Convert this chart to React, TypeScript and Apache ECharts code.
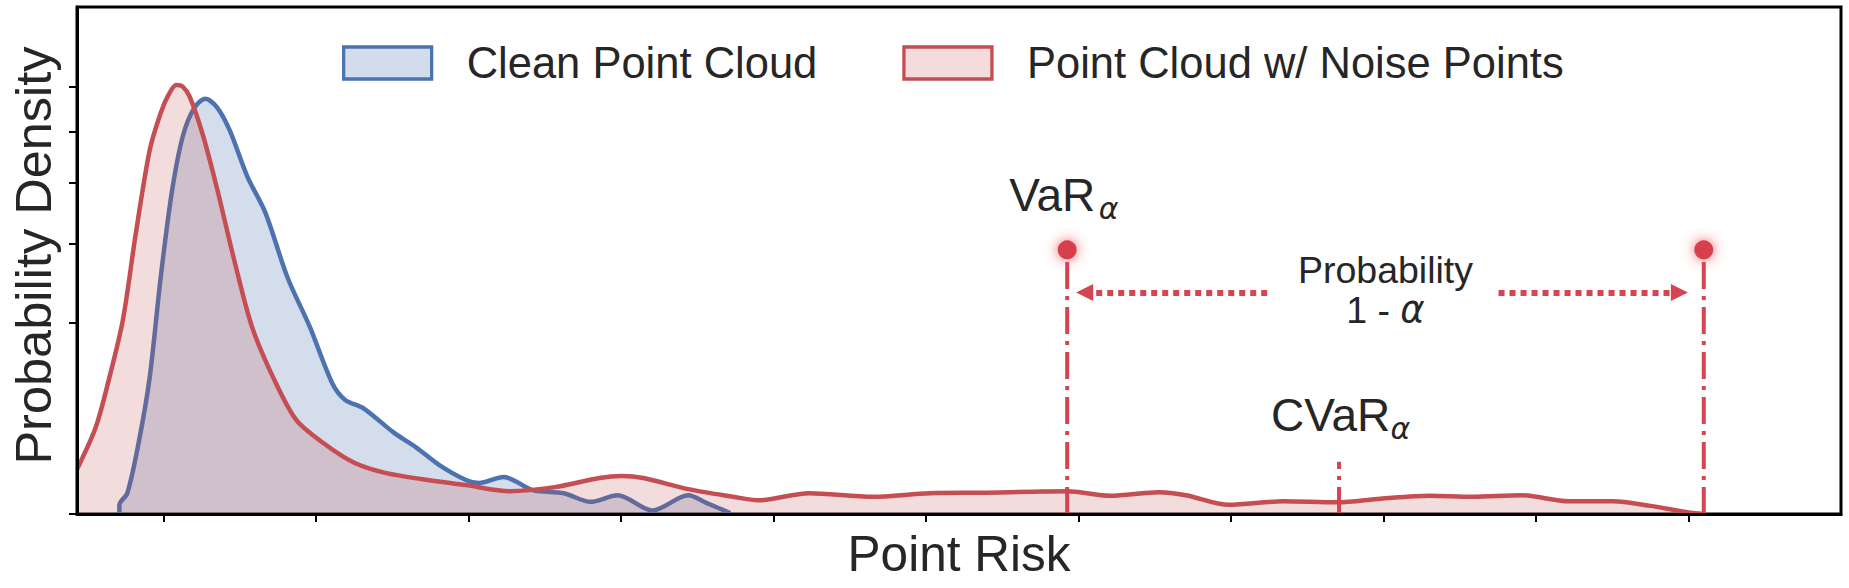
import React, { useEffect, useRef } from 'react';
import * as echarts from 'echarts';

// ---- axis extents / ticks (tick units along x, display units along y) ----
const X_MIN = -0.569;
const X_MAX = 11.0;
const xTickValues = [0, 1, 2, 3, 4, 5, 6, 7, 8, 9, 10];
const yTickValues = [0, 0.377, 0.533, 0.653, 0.754, 0.843];

// ---- series: Clean Point Cloud ----
const cleanRisk = [-0.291, -0.291, -0.239, -0.165, -0.092, -0.02, 0.052, 0.124, 0.2, 0.272, 0.347, 0.432, 0.549, 0.667, 0.811, 0.958, 1.105, 1.19, 1.308, 1.511, 1.661, 1.805, 1.982, 2.067, 2.23, 2.42, 2.623, 2.799, 2.976, 3.205, 3.44, 3.558, 3.715];
const cleanDensity = [0, 0.018, 0.041, 0.14, 0.27, 0.467, 0.633, 0.744, 0.801, 0.819, 0.803, 0.757, 0.665, 0.594, 0.467, 0.369, 0.258, 0.225, 0.209, 0.16, 0.13, 0.097, 0.067, 0.061, 0.073, 0.047, 0.041, 0.024, 0.037, 0.007, 0.037, 0.022, 0.002];

// ---- series: Point Cloud w/ Noise Points ----
const noisyRisk = [-0.569, -0.445, -0.356, -0.268, -0.183, -0.092, -0.02, 0.03, 0.082, 0.124, 0.17, 0.255, 0.347, 0.462, 0.579, 0.726, 0.87, 1.046, 1.249, 1.452, 1.687, 1.982, 2.269, 2.564, 2.858, 3.002, 3.146, 3.44, 3.734, 3.898, 4.231, 4.65, 5.023, 5.402, 5.71, 5.925, 6.207, 6.527, 6.704, 6.985, 7.338, 7.698, 7.979, 8.299, 8.581, 8.901, 9.215, 9.503, 9.751, 9.999, 10.1];
const noisyDensity = [0.088, 0.172, 0.27, 0.383, 0.554, 0.718, 0.791, 0.826, 0.846, 0.843, 0.823, 0.749, 0.645, 0.501, 0.369, 0.264, 0.185, 0.14, 0.101, 0.081, 0.069, 0.057, 0.045, 0.053, 0.071, 0.075, 0.071, 0.049, 0.034, 0.027, 0.041, 0.034, 0.041, 0.042, 0.044, 0.045, 0.036, 0.043, 0.037, 0.018, 0.025, 0.023, 0.03, 0.036, 0.034, 0.037, 0.025, 0.025, 0.016, 0.003, 0];

// ---- annotation values ----
const varLeft = 5.925;
const varRight = 10.1;
const varLevel = 0.521;
const cvarRisk = 7.708;
const cvarTop = 0.103;
const arrowLevel = 0.437;
const arrowLeftFrom = 7.237;
const arrowLeftTo = 6.04;
const arrowRightFrom = 8.754;
const arrowRightTo = 9.94;

const legendNames = ['Clean Point Cloud', 'Point Cloud w/ Noise Points'];

const BLUE = '#4C72B0';
const RED = '#C44E52';
const MARK = '#D44451';
const TEXT = '#262626';
const FONT = '"Liberation Sans", Arial, Helvetica, sans-serif';
const GREEK = '"DejaVu Sans", sans-serif';

const zip = (xs: number[], ys: number[]) => xs.map((x, i) => [x, ys[i]]);

export default function App() {
  const ref = useRef<HTMLDivElement>(null);
  useEffect(() => {
    document.body.style.margin = '0';
    const chart = echarts.init(ref.current!, null, { renderer: 'svg' });
    const dashDot = [27, 7, 4, 7];
    const option: any = {
      animation: false,
      grid: { left: 72, right: 8, top: 7, bottom: 74, show: true, borderColor: '#000', borderWidth: 3, backgroundColor: 'transparent' },
      legend: {
        left: 342,
        top: 41,
        padding: 0,
        itemWidth: 88,
        itemHeight: 32,
        itemGap: 85,
        selectedMode: false,
        textStyle: { fontSize: 43.5, fontFamily: FONT, color: TEXT, padding: [0, 0, 0, 30] },
        data: [
          { name: legendNames[0], icon: 'rect', itemStyle: { color: '#D3DCEC', borderColor: BLUE, borderWidth: 3.3 } },
          { name: legendNames[1], icon: 'rect', itemStyle: { color: '#F4DCDD', borderColor: RED, borderWidth: 3.3 } },
        ],
      },
      xAxis: {
        type: 'value',
        min: X_MIN,
        max: X_MAX,
        z: 10,
        name: 'Point Risk',
        nameLocation: 'middle',
        nameGap: 14,
        nameTextStyle: { fontSize: 49.5, fontFamily: FONT, color: TEXT },
        axisLine: { show: true, onZero: false, lineStyle: { color: '#000', width: 3 } },
        axisTick: { show: true, length: 8, lineStyle: { color: '#000', width: 2 }, customValues: xTickValues },
        axisLabel: { show: false },
        splitLine: { show: false },
      },
      yAxis: {
        type: 'value',
        min: 0,
        max: 1,
        z: 10,
        name: 'Probability Density',
        nameLocation: 'middle',
        nameRotate: 90,
        nameGap: 18,
        nameTextStyle: { fontSize: 50.5, fontFamily: FONT, color: TEXT, padding: [0, 0, 0, 10] },
        axisLine: { show: true, onZero: false, lineStyle: { color: '#000', width: 3 } },
        axisTick: { show: true, length: 8, lineStyle: { color: '#000', width: 2 }, customValues: yTickValues },
        axisLabel: { show: false },
        splitLine: { show: false },
      },
      series: [
        {
          name: legendNames[0],
          type: 'line',
          data: zip(cleanRisk, cleanDensity),
          smooth: 0.3,
          symbol: 'none',
          color: BLUE,
          lineStyle: { color: BLUE, width: 4.5 },
          areaStyle: { color: 'rgba(76,114,176,0.24)', opacity: 1 },
          z: 2,
        },
        {
          name: legendNames[1],
          type: 'line',
          data: zip(noisyRisk, noisyDensity),
          smooth: 0.3,
          symbol: 'none',
          color: RED,
          lineStyle: { color: RED, width: 4.5 },
          areaStyle: { color: 'rgba(196,78,82,0.2)', opacity: 1 },
          z: 3,
        },
        {
          name: 'VaR left',
          type: 'line',
          data: [[varLeft, 0], [varLeft, varLevel]],
          symbol: 'none',
          lineStyle: { color: MARK, width: 4, type: dashDot },
          z: 4,
        },
        {
          name: 'VaR right',
          type: 'line',
          data: [[varRight, 0], [varRight, varLevel]],
          symbol: 'none',
          lineStyle: { color: MARK, width: 4, type: dashDot },
          z: 4,
        },
        {
          name: 'CVaR',
          type: 'line',
          data: [[cvarRisk, 0], [cvarRisk, cvarTop]],
          symbol: 'none',
          lineStyle: { color: MARK, width: 4, type: dashDot },
          z: 4,
        },
        {
          name: 'arrows',
          type: 'lines',
          coordinateSystem: 'cartesian2d',
          symbol: ['none', 'triangle'],
          symbolSize: 17,
          lineStyle: { color: MARK, width: 6, type: [6, 5], opacity: 1, curveness: 0 },
          itemStyle: { color: MARK },
          data: [
            { coords: [[arrowLeftFrom, arrowLevel], [arrowLeftTo, arrowLevel]] },
            { coords: [[arrowRightFrom, arrowLevel], [arrowRightTo, arrowLevel]] },
          ],
          z: 4,
        },
        {
          name: 'VaR points',
          type: 'scatter',
          data: [[varLeft, varLevel], [varRight, varLevel]],
          symbolSize: 19,
          itemStyle: { color: '#D6404E', shadowBlur: 13, shadowColor: 'rgba(245,60,70,0.85)', opacity: 1 },
          z: 6,
        },
      ],
    };
    chart.setOption(option);

    const px = (x: number, y: number) => chart.convertToPixel({ gridIndex: 0 }, [x, y]) as number[];
    const [vx, vy] = px(varLeft, varLevel);
    const [cx, cy] = px(cvarRisk, cvarTop);
    const [mx, my] = px((varLeft + varRight) / 2, arrowLevel);

    const txt = (x: number, y: number, text: string, size: number, family: string, italic = false, align = 'left') => ({
      type: 'text',
      x,
      y,
      silent: true,
      z: 20,
      style: {
        text,
        fontSize: size,
        fontFamily: family,
        fontStyle: italic ? 'italic' : 'normal',
        fill: TEXT,
        align,
        textAlign: align,
        verticalAlign: 'middle',
        textVerticalAlign: 'middle',
      },
    });

    chart.setOption({
      graphic: [
        txt(vx - 58, vy - 55, 'VaR', 46, FONT),
        txt(vx + 31.5, vy - 41, 'α', 30, GREEK, true),
        txt(cx - 68, cy - 46.5, 'CVaR', 46, FONT),
        txt(cx + 51.5, cy - 33, 'α', 30, GREEK, true),
        txt(mx, my - 22.5, 'Probability', 37.5, FONT, false, 'center'),
        {
          type: 'text',
          x: mx,
          y: my + 17.5,
          silent: true,
          z: 20,
          style: {
            text: '{n|1 - }{i|α}',
            align: 'center',
            textAlign: 'center',
            verticalAlign: 'middle',
            textVerticalAlign: 'middle',
            rich: {
              n: { fontSize: 37.5, fontFamily: FONT, fill: TEXT, color: TEXT },
              i: { fontSize: 37, fontFamily: GREEK, fontStyle: 'italic', fill: TEXT, color: TEXT },
            },
          },
        },
      ],
    });

    return () => chart.dispose();
  }, []);
  return <div ref={ref} style={{ position: 'absolute', left: 0, top: 0, width: 1849, height: 588 }} />;
}
